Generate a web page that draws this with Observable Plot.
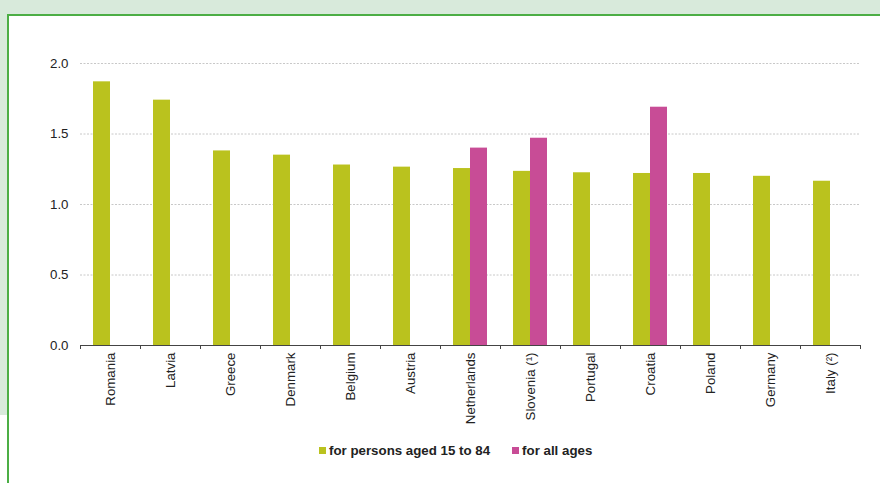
<!DOCTYPE html>
<html>
<head>
<meta charset="utf-8">
<script src="https://cdn.jsdelivr.net/npm/d3@7"></script>
<script src="https://cdn.jsdelivr.net/npm/@observablehq/plot@0.6"></script>
<style>
  html, body { margin: 0; padding: 0; width: 880px; height: 483px; overflow: hidden; background: #d8eadb; font-family: "Liberation Sans", Arial, sans-serif; }
  #frame { position: absolute; left: 7px; top: 14px; width: 900px; height: 500px; background: #fff; border-left: 2px solid #4cae45; border-top: 2px solid #4cae45; }
  #lowleft { position: absolute; left: 0; top: 415px; width: 7px; height: 80px; background: #fff; }
  #chart { position: absolute; left: 0; top: 0; }
  #legend { position: absolute; left: 319px; top: 443px; font-size: 13.3px; font-weight: bold; color: #222; display: flex; align-items: center; white-space: nowrap; }
  #legend .sw { display: inline-block; width: 7px; height: 7px; margin-right: 3px; }
  #legend .item { display: flex; align-items: center; margin-right: 22px; }
</style>
</head>
<body>
<div id="frame"></div>
<div id="lowleft"></div>
<div id="chart"></div>
<div id="legend"></div>
<script>
const countries = ["Romania", "Latvia", "Greece", "Denmark", "Belgium", "Austria", "Netherlands", "Slovenia (¹)", "Portugal", "Croatia", "Poland", "Germany", "Italy (²)"];
const aged15to84 = [1.87, 1.74, 1.38, 1.35, 1.28, 1.265, 1.255, 1.235, 1.225, 1.22, 1.22, 1.20, 1.165];
const allAges = [null, null, null, null, null, null, 1.40, 1.47, null, 1.69, null, null, null];
const seriesNames = ["for persons aged 15 to 84", "for all ages"];
const seriesColors = ["#bac21e", "#c84c96"];
const yTicks = [0, 0.5, 1.0, 1.5, 2.0];

const dataA = countries.map((c, i) => ({country: c, value: aged15to84[i]}));
const dataB = countries.map((c, i) => ({country: c, value: allAges[i]})).filter(d => d.value != null);

const chart = Plot.plot({
  width: 880,
  height: 440,
  marginLeft: 80,
  marginRight: 20,
  marginTop: 63,
  marginBottom: 95,
  style: {fontFamily: "Liberation Sans, Arial, sans-serif", fontSize: "13.3px", color: "#222", background: "transparent"},
  x: {domain: countries, padding: 0},
  y: {domain: [0, 2]},
  marks: [
    Plot.gridY(yTicks.slice(1), {stroke: "#c8c8c8", strokeOpacity: 1, strokeDasharray: "2,1.5"}),
    Plot.barY(dataA, {x: "country", y: "value", fill: seriesColors[0], insetLeft: 13, insetRight: 30}),
    Plot.barY(dataB, {x: "country", y: "value", fill: seriesColors[1], insetLeft: 30, insetRight: 13}),
    Plot.ruleY([0], {stroke: "#444", strokeWidth: 1}),
    Plot.ruleX(countries, {x: d => d, y1: 0, y2: 0, dx: -30, insetBottom: -4, stroke: "#444"}),
    Plot.ruleX(countries.slice(-1), {x: d => d, y1: 0, y2: 0, dx: 30, insetBottom: -4, stroke: "#444"}),
    Plot.axisY({ticks: yTicks, tickFormat: d3.format(".1f"), tickSize: 0, tickPadding: 12, fontSize: 13.3, fill: "#222", label: null}),
    Plot.axisX({tickRotate: -90, tickSize: 0, tickPadding: 7, fontSize: 13.3, fill: "#222", label: null})
  ]
});
document.getElementById("chart").appendChild(chart);

const legend = document.getElementById("legend");
seriesNames.forEach((name, i) => {
  const item = document.createElement("span");
  item.className = "item";
  const sw = document.createElement("span");
  sw.className = "sw";
  sw.style.background = seriesColors[i];
  item.appendChild(sw);
  item.appendChild(document.createTextNode(name));
  legend.appendChild(item);
});
</script>
</body>
</html>
